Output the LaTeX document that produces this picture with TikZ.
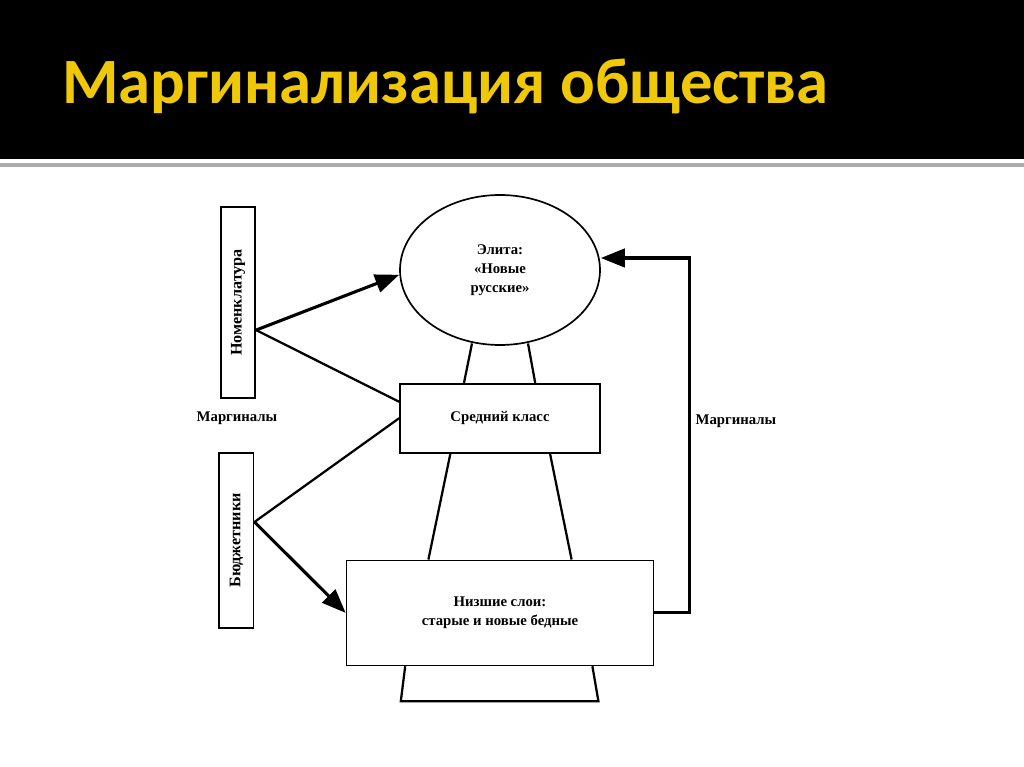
\documentclass[tikz,border=0pt]{standalone}
\usepackage{fontspec}
\setmainfont{Liberation Serif}
\newfontfamily\titlefont{Carlito}
\usetikzlibrary{arrows.meta, positioning, calc, shapes.geometric}
\definecolor{titleyellow}{RGB}{240, 200, 10}
\definecolor{rulegray}{RGB}{170, 170, 170}

\begin{document}
\begin{tikzpicture}[
  node distance=0.925cm and 2cm,
  box/.style={draw, line width=1.2pt, align=center, font=\bfseries\fontsize{10.5}{14}\selectfont},
  sidebox/.style={box, minimum width=0.86cm, inner sep=0pt, font=\bfseries\fontsize{11.5}{14}\selectfont},
  lbl/.style={align=center, font=\bfseries\fontsize{10.5}{12}\selectfont},
  link/.style={line width=1.6pt},
  arr/.style={-{Triangle[length=6mm, width=4.6mm]}, line width=2.2pt},
  wall/.style={line width=1.6pt}
]
% page and title band
\useasboundingbox (0,0) rectangle (25.6,-19.175);
\fill[black] (0,0) rectangle (25.6,-3.975);
\fill[rulegray] (0,-4.075) rectangle (25.6,-4.175);
\node[anchor=base west, inner sep=0pt, text=titleyellow,
  font=\titlefont\bfseries\fontsize{46}{50}\selectfont] (title) at (1.55,-2.6)
  {Маргинализация общества};

% social layers
\node[ellipse, draw, line width=1.2pt, minimum width=5cm, minimum height=3.75cm,
  align=center, font=\bfseries\fontsize{10.5}{13.5}\selectfont] (elite) at (12.5,-6.75)
  {Элита:\\«Новые\\русские»};
\node[box, minimum width=5cm, minimum height=1.725cm, below=of elite] (mid) {Средний класс};
\node[box, minimum width=7.675cm, minimum height=2.625cm, below=2.65cm of mid] (low)
  {Низшие слои:\\старые и новые бедные};

% marginal groups
\node[sidebox, minimum height=4.775cm] (nomen) at (5.95,-7.5625)
  {\rotatebox{90}{Номенклатура}};
\node[sidebox, minimum height=4.375cm] (budget) at (5.91,-13.51)
  {\rotatebox{90}{Бюджетники}};
\node[lbl] (margL) at (5.925,-10.45) {Маргиналы};

% pyramid walls
\coordinate (baseL) at ($(low.south)+(-2.48,-0.875)$);
\coordinate (baseR) at ($(low.south)+(2.46,-0.875)$);
\draw[wall] ($(elite.south)+(-0.7,0.06)$) -- ($(mid.north)+(-0.9,0)$);
\draw[wall] ($(elite.south)+(0.7,0.06)$) -- ($(mid.north)+(0.88,0)$);
\draw[wall] ($(mid.south)+(-1.24,0)$) -- ($(low.north)+(-1.79,0)$);
\draw[wall] ($(mid.south)+(1.25,0)$) -- ($(low.north)+(1.79,0)$);
\draw[wall] ($(low.south)+(-2.37,0)$) -- (baseL) -- (baseR) -- ($(low.south)+(2.31,0)$);

% flows
\draw[arr] ($(nomen.east)+(0,-0.69)$) -- ($(elite.west)+(0,-0.12)$);
\draw[link] ($(nomen.east)+(0,-0.69)$) -- ($(mid.west)+(0,0.41)$);
\draw[link] ($(budget.east)+(0,0.46)$) -- (mid.west);
\draw[arr] ($(budget.east)+(0,0.46)$) -- (low.west);
\draw[arr] (low.east) -- ++(0.875,0) |- node[lbl, right, pos=0.27] (margR) {Маргиналы}
  ($(elite.east)+(0,0.3)$);
\end{tikzpicture}
\end{document}
